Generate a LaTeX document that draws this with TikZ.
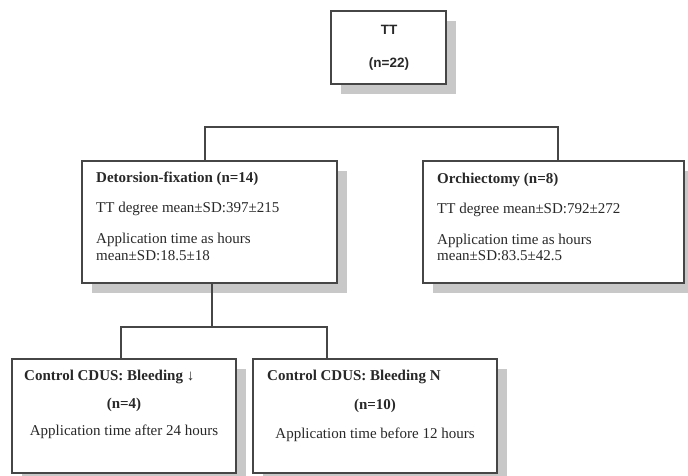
\documentclass[tikz,border=0pt]{standalone}
\usepackage{fontspec}
\setmainfont{Liberation Serif}
\newfontfamily\ttboxfont{Liberation Sans}
\usetikzlibrary{shadows}
\definecolor{boxline}{RGB}{70,70,70}
\definecolor{shadowgray}{RGB}{200,200,200}
\definecolor{txt}{RGB}{40,40,40}
\tikzset{
  panel/.style={draw=boxline, line width=1.4pt, fill=white, rectangle, inner sep=0pt,
    drop shadow={shadow xshift=10pt, shadow yshift=-10pt, fill=shadowgray, opacity=1}},
  conn/.style={draw=boxline, line width=1.2pt},
  lt/.style={anchor=base west, inner sep=0pt, text=txt, font=\fontsize{15}{17}\selectfont},
  ct/.style={anchor=base, inner sep=0pt, text=txt, font=\fontsize{15}{17}\selectfont},
  st/.style={anchor=base, inner sep=0pt, text=txt, font=\ttboxfont\bfseries\fontsize{13.5}{15}\selectfont},
}
\begin{document}
\begin{tikzpicture}[x=1pt,y=-1pt]
\useasboundingbox[fill=white] (0,0) rectangle (688,475);
% boxes
\node[panel, minimum width=115pt, minimum height=73pt] (tt) at (388.5,47.5) {};
\node[panel, minimum width=255pt, minimum height=122pt] (det) at (209.5,222) {};
\node[panel, minimum width=261pt, minimum height=122pt] (orc) at (553.5,222) {};
\node[panel, minimum width=224pt, minimum height=114pt] (ll) at (124,416) {};
\node[panel, minimum width=244pt, minimum height=114pt] (lr) at (375,416) {};
% connectors
\coordinate (topbar) at (0,127);
\coordinate (midbar) at (0,327);
\draw[conn] (det.north -| 205,0) |- (topbar -| 558,0) -- (orc.north -| 558,0);
\draw[conn] (det.south -| 212,0) -- (midbar -| 212,0);
\draw[conn] (ll.north -| 121,0) |- (midbar -| 327,0) -- (lr.north -| 327,0);
% texts
\node[st] (tt1) at (389,34) {TT};
\node[st] (tt2) at (389,67.5) {(n=22)};
\node[lt] (d1) at (96,182) {\bfseries Detorsion-fixation (n=14)};
\node[lt] (d2) at (96,212) {TT degree mean±SD:397±215};
\node[lt] (d3) at (96,243) {Application time as hours};
\node[lt] (d4) at (96,260) {mean±SD:18.5±18};
\node[lt] (o1) at (437,183) {\bfseries Orchiectomy (n=8)};
\node[lt] (o2) at (437,213) {TT degree mean±SD:792±272};
\node[lt] (o3) at (437,244) {Application time as hours};
\node[lt] (o4) at (437,260) {mean±SD:83.5±42.5};
\node[lt] (l1) at (24,380) {\bfseries Control CDUS: Bleeding ↓};
\node[ct] (l2) at (124,408) {\bfseries (n=4)};
\node[ct] (l3) at (124,435) {Application time after 24 hours};
\node[lt] (r1) at (267,380) {\bfseries Control CDUS: Bleeding N};
\node[ct] (r2) at (375,409) {\bfseries (n=10)};
\node[ct] (r3) at (375,438) {Application time before 12 hours};
\end{tikzpicture}
\end{document}
